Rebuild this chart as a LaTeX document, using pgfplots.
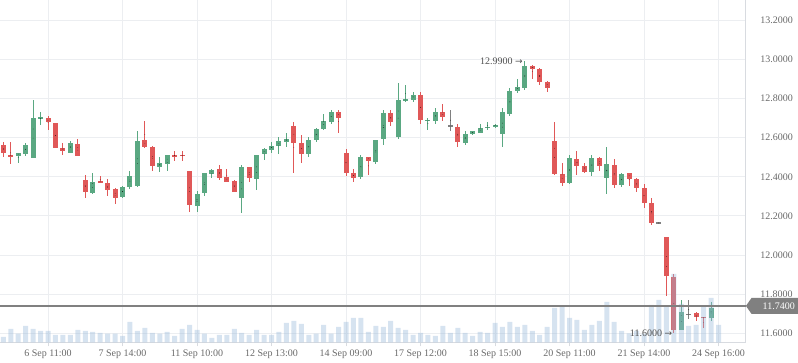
\documentclass[border=0pt]{standalone}
\usepackage{pgfplots}
\pgfplotsset{compat=1.18}
\usepackage{pgfplotstable}
\usepackage{fontspec}
\setmainfont{Liberation Serif}
\newfontfamily\arrfont{DejaVu Sans}
\usetikzlibrary{shapes.symbols}
\definecolor{upc}{RGB}{90,168,130}
\definecolor{dnc}{RGB}{224,88,88}
\definecolor{dojic}{RGB}{128,128,128}
\definecolor{volc}{RGB}{153,185,218}
\definecolor{gridc}{RGB}{236,238,241}
\definecolor{axc}{RGB}{216,219,224}
\definecolor{labc}{RGB}{105,105,105}
\definecolor{annc}{RGB}{80,80,80}

% k: 0 = up (green), 1 = down (red), 2 = doji (grey); v = volume
\pgfplotstableread{
i o h l c k v
0 12.564 12.576 12.502 12.524 1 16
1 12.513 12.576 12.468 12.504 1 40
2 12.509 12.523 12.473 12.523 0 26
3 12.519 12.574 12.504 12.564 0 49
4 12.494 12.795 12.494 12.702 0 40
5 12.694 12.733 12.663 12.707 0 34
6 12.702 12.713 12.641 12.678 1 34
7 12.677 12.677 12.545 12.545 1 22
8 12.548 12.574 12.514 12.530 1 22
9 12.524 12.584 12.524 12.574 0 22
10 12.569 12.595 12.504 12.504 1 37
11 12.384 12.410 12.294 12.324 1 34
12 12.319 12.420 12.314 12.374 0 31
13 12.379 12.405 12.366 12.371 1 28
14 12.369 12.389 12.304 12.335 1 26
15 12.338 12.343 12.263 12.294 1 26
16 12.299 12.354 12.294 12.348 0 19
17 12.348 12.432 12.336 12.405 0 61
18 12.354 12.636 12.348 12.584 0 34
19 12.589 12.687 12.545 12.555 1 43
20 12.554 12.559 12.432 12.453 1 28
21 12.448 12.502 12.427 12.471 0 26
22 12.468 12.513 12.432 12.513 0 31
23 12.513 12.533 12.482 12.504 1 19
24 12.512 12.533 12.482 12.506 1 40
25 12.430 12.430 12.222 12.258 1 52
26 12.253 12.328 12.222 12.313 0 37
27 12.318 12.420 12.302 12.420 0 26
28 12.415 12.441 12.395 12.436 0 13
29 12.441 12.461 12.384 12.395 1 22
30 12.400 12.441 12.376 12.376 1 22
31 12.379 12.384 12.323 12.323 1 40
32 12.292 12.461 12.215 12.451 0 28
33 12.451 12.451 12.374 12.395 1 22
34 12.389 12.513 12.333 12.513 0 37
35 12.518 12.548 12.487 12.543 0 22
36 12.538 12.579 12.523 12.559 0 22
37 12.559 12.605 12.518 12.584 0 31
38 12.579 12.625 12.554 12.595 0 58
39 12.661 12.682 12.420 12.574 1 64
40 12.574 12.615 12.471 12.518 1 55
41 12.518 12.605 12.502 12.589 0 22
42 12.589 12.651 12.579 12.646 0 26
43 12.646 12.723 12.641 12.687 0 52
44 12.682 12.743 12.671 12.733 0 26
45 12.733 12.743 12.625 12.702 1 46
46 12.523 12.543 12.405 12.420 1 61
47 12.420 12.441 12.374 12.395 1 73
48 12.400 12.513 12.389 12.502 0 73
49 12.502 12.502 12.410 12.482 1 31
50 12.478 12.589 12.465 12.589 0 49
51 12.596 12.743 12.561 12.728 0 46
52 12.728 12.743 12.658 12.678 1 64
53 12.605 12.882 12.591 12.795 0 43
54 12.790 12.867 12.784 12.796 0 37
55 12.795 12.836 12.784 12.820 0 22
56 12.820 12.836 12.672 12.692 1 28
57 12.685 12.702 12.641 12.692 0 22
58 12.687 12.754 12.672 12.733 0 19
59 12.733 12.774 12.687 12.704 1 49
60 12.662 12.743 12.636 12.658 2 28
61 12.656 12.672 12.554 12.579 1 43
62 12.574 12.636 12.564 12.620 0 28
63 12.620 12.636 12.615 12.632 0 19
64 12.625 12.672 12.625 12.651 0 31
65 12.651 12.682 12.641 12.657 0 28
66 12.656 12.672 12.651 12.667 0 58
67 12.617 12.754 12.555 12.733 0 46
68 12.723 12.856 12.713 12.841 0 61
69 12.841 12.902 12.827 12.861 0 46
70 12.856 12.990 12.846 12.969 0 52
71 12.969 12.974 12.902 12.949 1 34
72 12.949 12.954 12.872 12.887 1 22
73 12.887 12.892 12.836 12.856 1 46
74 12.584 12.682 12.410 12.415 1 103
75 12.415 12.472 12.355 12.371 1 109
76 12.369 12.513 12.364 12.497 0 73
77 12.492 12.533 12.410 12.456 1 67
78 12.456 12.472 12.420 12.425 1 37
79 12.425 12.513 12.405 12.497 0 52
80 12.497 12.502 12.431 12.456 1 64
81 12.395 12.554 12.313 12.467 0 121
82 12.461 12.492 12.343 12.359 1 61
83 12.359 12.420 12.349 12.415 0 34
84 12.420 12.420 12.354 12.390 1 27
85 12.390 12.395 12.323 12.343 1 34
86 12.343 12.364 12.241 12.267 1 25
87 12.267 12.292 12.154 12.164 1 112
88 12.166 12.166 12.162 12.162 2 127
89 12.092 12.092 11.790 11.892 1 109
90 11.887 11.903 11.600 11.615 1 205
91 11.615 11.769 11.615 11.708 0 115
92 11.700 11.769 11.672 11.696 2 49
93 11.703 11.708 11.662 11.682 1 52
94 11.684 11.684 11.626 11.679 1 109
95 11.680 11.759 11.662 11.728 0 133
96 11.742 11.742 11.738 11.738 2 52
}\ohlc

\pgfplotsset{
  frame/.style={at={(0,0)}, anchor=south west, scale only axis,
    width=745.7bp, height=342.3bp, xmin=-0.443, xmax=99.65},
  wick/.style={only marks, mark=*, mark size=0.01pt,
    mark options={draw=none, fill=none}, forget plot,
    restrict expr to domain={\thisrow{k}}{#1:#1},
    error bars/.cd, y dir=both, y explicit, error mark=none},
}

\begin{document}
\begin{tikzpicture}
\begin{axis}[frame, ymin=11.554, ymax=13.304,
  axis x line*=bottom, axis y line*=right,
  axis line style={axc, line width=1bp},
  xtick={6,16,...,96},
  xticklabels={6 Sep 11:00, 7 Sep 14:00, 11 Sep 10:00, 12 Sep 13:00, 14 Sep 09:00, 17 Sep 12:00, 18 Sep 15:00, 20 Sep 11:00, 21 Sep 14:00, 24 Sep 16:00},
  ytick={11.6,11.8,12.0,12.2,12.4,12.6,12.8,13.0,13.2},
  yticklabels={11.6000,11.8000,12.0000,12.2000,12.4000,12.6000,12.8000,13.0000,13.2000},
  grid=major, major grid style={gridc, line width=1bp},
  tick align=outside, major tick length=4bp,
  xtick style={axc, line width=1bp}, ytick style={draw=none},
  tick label style={font=\fontsize{10bp}{12bp}\selectfont, text=labc},
  yticklabel style={anchor=west, inner sep=0pt, xshift=10.5bp},
  xticklabel style={anchor=north, inner sep=0pt, yshift=-3bp},
]
% wicks
\addplot[wick=0, error bar style={line width=1bp, upc}] table[x=i, y expr={(\thisrow{h}+\thisrow{l})/2}, y error expr={(\thisrow{h}-\thisrow{l})/2}] {\ohlc};
\addplot[wick=1, error bar style={line width=1bp, dnc}] table[x=i, y expr={(\thisrow{h}+\thisrow{l})/2}, y error expr={(\thisrow{h}-\thisrow{l})/2}] {\ohlc};
\addplot[wick=2, error bar style={line width=1bp, dojic}] table[x=i, y expr={(\thisrow{h}+\thisrow{l})/2}, y error expr={(\thisrow{h}-\thisrow{l})/2}] {\ohlc};
% bodies
\addplot[wick=0, error bar style={line width=5bp, upc}] table[x=i, y expr={(\thisrow{o}+\thisrow{c})/2}, y error expr={max(abs(\thisrow{o}-\thisrow{c})/2,0.0026)}] {\ohlc};
\addplot[wick=1, error bar style={line width=5bp, dnc}] table[x=i, y expr={(\thisrow{o}+\thisrow{c})/2}, y error expr={max(abs(\thisrow{o}-\thisrow{c})/2,0.0026)}] {\ohlc};
\addplot[wick=2, error bar style={line width=5bp, dojic}] table[x=i, y expr={(\thisrow{o}+\thisrow{c})/2}, y error expr={max(abs(\thisrow{o}-\thisrow{c})/2,0.0026)}] {\ohlc};
\end{axis}

% volume
\begin{axis}[frame, ymin=0, ymax=1027, hide axis]
\addplot[ybar, bar width=5bp, fill=volc, fill opacity=0.4, draw=none] table[x=i, y=v] {\ohlc};
\end{axis}

% overlay
\begin{axis}[frame, ymin=11.554, ymax=13.304, hide axis, clip=false]
\addplot[dojic, line width=1.3bp] coordinates {(-0.443,11.74) (99.65,11.74)};
\node[anchor=east, text=annc, inner sep=0pt, xshift=-2bp,
  font=\fontsize{10bp}{12bp}\selectfont] at (axis cs:70,12.99) {12.9900\hspace{2.5bp}{\arrfont\fontsize{9bp}{10bp}\selectfont →}};
\node[anchor=east, text=annc, inner sep=0pt, xshift=-1.5bp,
  font=\fontsize{10bp}{12bp}\selectfont] at (axis cs:90,11.60) {11.6000\hspace{2.5bp}{\arrfont\fontsize{9bp}{10bp}\selectfont →}};
\node[signal, signal to=west, signal pointer angle=110, fill=dojic, text=white,
  anchor=west, minimum height=16bp, minimum width=56bp, inner xsep=3bp, inner ysep=2bp,
  font=\fontsize{10bp}{12bp}\selectfont] at (axis cs:99.65,11.74) {\hspace*{4bp}11.7400\hfill};
\end{axis}
\pgfresetboundingbox
\useasboundingbox (0,-20.7bp) rectangle (798bp,342.3bp);
\end{tikzpicture}
\end{document}
